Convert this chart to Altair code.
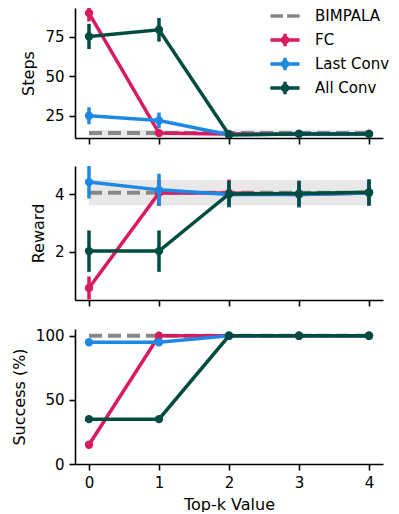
import altair as alt
import pandas as pd
import math

# ---------------- data ----------------
ks = [0, 1, 2, 3, 4]
methods = ["BIMPALA", "FC", "Last Conv", "All Conv"]
colors = ["#888888", "#D81B60", "#1E88E5", "#004D40"]

# Steps
steps_bimpala = [14.0, 14.0, 14.0, 14.0, 14.0]
steps_bimpala_err = [2.2, 2.2, 2.2, 2.2, 2.2]
steps_fc = [90.0, 14.0, 13.5, 13.5, 13.5]
steps_fc_err = [5.3, 1.0, 0.8, 0.8, 0.8]
steps_last = [25.0, 22.0, 13.0, 13.5, 13.5]
steps_last_err = [5.4, 5.0, 0.8, 0.8, 0.8]
steps_all = [75.2, 79.4, 13.0, 13.5, 13.5]
steps_all_err = [8.0, 7.5, 0.8, 0.8, 0.8]

# Reward
reward_bimpala = [4.06, 4.06, 4.06, 4.06, 4.06]
reward_bimpala_err = [0.44, 0.44, 0.44, 0.44, 0.44]
reward_fc = [0.75, 4.05, 4.05, 4.0, 4.05]
reward_fc_err = [0.4, 0.45, 0.47, 0.45, 0.45]
reward_last = [4.43, 4.16, 4.0, 4.0, 4.05]
reward_last_err = [0.57, 0.56, 0.45, 0.45, 0.45]
reward_all = [2.03, 2.03, 4.02, 4.03, 4.08]
reward_all_err = [0.72, 0.72, 0.45, 0.45, 0.45]

# Success (%)
success_bimpala = [100, 100, 100, 100, 100]
success_fc = [15, 100, 100, 100, 100]
success_last = [95, 95, 100, 100, 100]
success_all = [35, 35, 100, 100, 100]
zero_err = [0, 0, 0, 0, 0]

series = {
    "Steps": {
        "BIMPALA": (steps_bimpala, steps_bimpala_err),
        "FC": (steps_fc, steps_fc_err),
        "Last Conv": (steps_last, steps_last_err),
        "All Conv": (steps_all, steps_all_err),
    },
    "Reward": {
        "BIMPALA": (reward_bimpala, reward_bimpala_err),
        "FC": (reward_fc, reward_fc_err),
        "Last Conv": (reward_last, reward_last_err),
        "All Conv": (reward_all, reward_all_err),
    },
    "Success": {
        "BIMPALA": (success_bimpala, zero_err),
        "FC": (success_fc, zero_err),
        "Last Conv": (success_last, zero_err),
        "All Conv": (success_all, zero_err),
    },
}

rows = []
for metric, d in series.items():
    for m, (vals, errs) in d.items():
        for k, v, e in zip(ks, vals, errs):
            rows.append({"metric": metric, "method": m, "k": k, "mean": v,
                         "lo": v - e, "hi": v + e})
df = pd.DataFrame(rows)


# legend symbols (line + error tick + marker), BIMPALA dashed line only
S = 0.833  # path scale


def poly(r, n=12):
    pts = [(r * math.cos(2 * math.pi * i / n), r * math.sin(2 * math.pi * i / n)) for i in range(n)]
    return "M" + "L".join(f"{x:.3f},{y:.3f}" for x, y in pts) + "Z"


L, T, G = 2.917 * S, 1.25 * S, 0.417 * S
marker_path = f"M{-L:.3f},0H{L:.3f}M0,{-T:.3f}V{T:.3f}" + poly(0.5 * S) + poly(0.2 * S)
dash_path = f"M{-L:.3f},0H{-G:.3f}M{G:.3f},0H{L:.3f}M0,{-T:.3f}L0,{-T:.3f}M0,{T:.3f}L0,{T:.3f}"
shape_paths = [dash_path, marker_path, marker_path, marker_path]

FONT = "DejaVu Sans"
xscale = alt.Scale(domain=[-0.2, 4.2], nice=False, zero=False)


def yenc(field, ytitle, ydomain, yvalues):
    return alt.Y(field, scale=alt.Scale(domain=ydomain, nice=False, zero=False),
                 axis=alt.Axis(values=yvalues, title=ytitle, titlePadding=8))


def panel(metric, ytitle, ydomain, yvalues, height, bottom, with_legend=False):
    base = alt.Chart(df).transform_filter(alt.datum.metric == metric)
    if bottom:
        xax = alt.Axis(values=ks, format="d", title="Top-k Value", titlePadding=6)
    else:
        xax = alt.Axis(values=ks, labels=False, title=None)
    x = alt.X("k:Q", scale=xscale, axis=xax)
    y = yenc("mean:Q", ytitle, ydomain, yvalues)
    ylo = yenc("lo:Q", ytitle, ydomain, yvalues)

    layers = []
    bim = base.transform_filter(alt.datum.method == "BIMPALA")
    layers.append(bim.mark_area(color="#808080", opacity=0.18, clip=True).encode(
        x=x, y=ylo, y2="hi:Q"))
    layers.append(bim.mark_line(color="#888888", strokeWidth=4, strokeDash=[13, 6],
                                clip=True).encode(x=x, y=y))
    for m, c in zip(methods[1:], colors[1:]):
        sub = base.transform_filter(alt.datum.method == m)
        layers.append(sub.mark_rule(color=c, strokeWidth=3.5, clip=True).encode(
            x=x, y=ylo, y2="hi:Q"))
        layers.append(sub.mark_line(color=c, strokeWidth=3.5, clip=True).encode(x=x, y=y))
        layers.append(sub.mark_circle(color=c, size=70, opacity=1, clip=True).encode(x=x, y=y))
    if with_legend:
        leg = alt.Legend(title=None, orient="none", legendX=202, legendY=0,
                         symbolSize=144, symbolStrokeWidth=3.5, labelFontSize=15,
                         labelFont=FONT, labelColor="black", labelOffset=22,
                         rowPadding=-4, padding=0)
        layers.append(
            alt.Chart(df).transform_filter("false")
            .mark_point(filled=False, opacity=1, strokeWidth=3.5, size=144)
            .encode(
                color=alt.Color("method:N", scale=alt.Scale(domain=methods, range=colors),
                                legend=leg),
                shape=alt.Shape("method:N", scale=alt.Scale(domain=methods, range=shape_paths),
                                legend=leg),
            )
        )
    return alt.layer(*layers).properties(width=308, height=height)


p1 = panel("Steps", "Steps", [10.9, 93.2], [25, 50, 75], 130, False, with_legend=True)
p2 = panel("Reward", "Reward", [0.33, 4.99], [2, 4], 134, False)
p3 = panel("Success", "Success (%)", [0, 105.3], [0, 50, 100], 135, True)

chart = alt.vconcat(p1, p2, p3, spacing=21).properties(
    padding={"left": 3, "top": 0, "right": 0, "bottom": 0}
).configure_view(stroke=None).configure_axis(
    grid=False,
    labelFont=FONT, labelFontSize=15, labelColor="black",
    titleFont=FONT, titleFontSize=16, titleFontWeight="normal", titleColor="black",
    domainColor="black", domainWidth=1.6, tickColor="black", tickWidth=1.6,
    tickSize=6, labelPadding=5,
)

chart.save("out.html", embed_options={"renderer": "svg", "actions": False})
